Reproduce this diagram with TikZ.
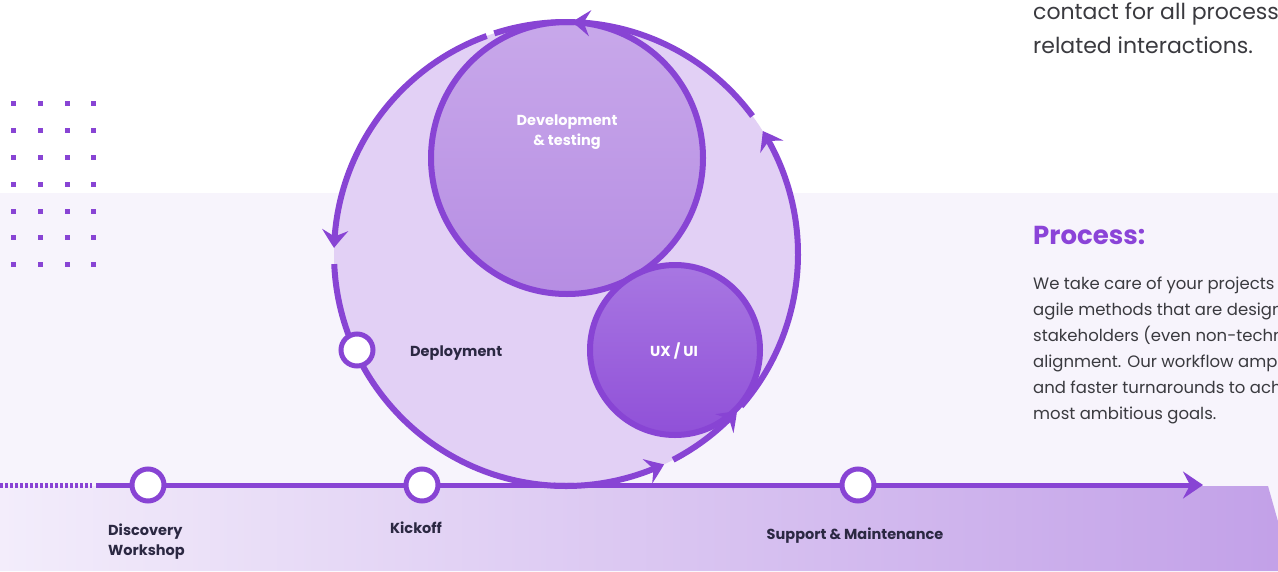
\documentclass[tikz,border=0pt]{standalone}
\usepackage{fontspec}
\setmainfont{Poppins}
\usetikzlibrary{arrows.meta,bending}
\definecolor{pline}{HTML}{8844D4}
\definecolor{bgl}{HTML}{F7F4FC}
\definecolor{bigfill}{HTML}{E2D0F5}
\definecolor{devtop}{HTML}{C8A8EA}
\definecolor{devbot}{HTML}{B68DE3}
\definecolor{uxtop}{HTML}{A877E2}
\definecolor{uxbot}{HTML}{9050D8}
\definecolor{bandL}{HTML}{F3EDFB}
\definecolor{bandR}{HTML}{C2A0E8}
\definecolor{darktxt}{HTML}{2B2842}
\definecolor{bodytxt}{HTML}{3A3A3F}
\definecolor{ptitle}{HTML}{8B44D8}
\tikzset{
  ring/.style={draw=pline, line width=6},
  arcline/.style={draw=pline, line width=6},
  arctip/.style={-{Stealth[length=18pt,width=26pt,inset=6.5pt,bend]}},
  mile/.style={circle, draw=pline, line width=5, fill=white, minimum size=32pt, inner sep=0pt},
  lbl/.style={text=darktxt, font=\fontsize{14.5}{20}\selectfont\bfseries, inner sep=0pt},
  wlbl/.style={text=white, font=\fontsize{14.5}{20}\selectfont\bfseries, inner sep=0pt, align=center},
  body/.style={text=bodytxt, font=\fontsize{16.5}{26}\selectfont, inner sep=0pt, anchor=base west},
  big/.style={text=bodytxt, font=\fontsize{22}{34}\selectfont, inner sep=0pt, anchor=base west}
}
\begin{document}
\begin{tikzpicture}[x=1pt,y=-1pt]
\useasboundingbox (0,0) rectangle (1278,571);
\clip (0,0) rectangle (1278,571);
% backgrounds
\fill[white] (0,0) rectangle (1278,193);
\fill[bgl] (0,193) rectangle (1278,571);
\shade[left color=bandL, right color=bandR] (0,486) -- (1268,486) -- (1292,571) -- (0,571) -- cycle;
% dots
\foreach \xx in {13,40,67,93}
  \foreach \yy in {103,130,157,184,211,237,264}
    \fill[pline] (\xx-2.5,\yy-2.5) rectangle ++(5,5);
% big circle
\coordinate (C) at (566,254);
\fill[bigfill] (C) circle[radius=232pt];
% development circle
\coordinate (D) at (567,158);
\shade[top color=devtop, bottom color=devbot] (D) circle[radius=136pt];
\draw[ring] (D) circle[radius=136pt];
% UX circle
\coordinate (U) at (675,350);
\shade[top color=uxtop, bottom color=uxbot] (U) circle[radius=85pt];
\draw[ring] (U) circle[radius=85pt];
% big circle arcs with arrows
\draw[arcline, arctip] (C) ++(-93:232pt) arc[start angle=-93, end angle=-65, radius=232pt];
\draw[arcline, arctip] (C) ++(-62.5:232pt) arc[start angle=-62.5, end angle=-42.5, radius=232pt];
\draw[arcline, arctip] (C) ++(-41:232pt) arc[start angle=-41, end angle=32, radius=232pt];
\draw[arcline, arctip] (C) ++(36.5:232pt) arc[start angle=36.5, end angle=88.5, radius=232pt];
\draw[arcline] (C) ++(88:232pt) arc[start angle=88, end angle=108, radius=232pt];
\draw[arcline, arctip] (C) ++(110:232pt) arc[start angle=110, end angle=178.5, radius=232pt];
\draw[arcline] (C) ++(182.5:232pt) arc[start angle=182.5, end angle=272, radius=232pt];
% timeline
\coordinate (T0) at (0,485);
\coordinate (T1) at (92,485);
\coordinate (TL) at (96,485);
\coordinate (TR) at (1203,485);
\draw[pline, line width=5, dash pattern=on 3pt off 2pt] (T0) -- (T1);
\draw[pline, line width=5, -{Stealth[length=20pt,width=27pt,inset=7pt]}] (TL) -- (TR);
% milestones
\node[mile] (disc) at (148,485) {};
\node[mile] (kick) at (422,485) {};
\node[mile] (supp) at (858,485) {};
\node[mile] (depl) at (357,350) {};
% labels
\node[lbl, anchor=base west] (discl) at (108,535) {Discovery};
\node[lbl, anchor=base west] (workl) at (108,555) {Workshop};
\node[lbl, anchor=base] (kickl) at (416,533) {Kickoff};
\node[lbl, anchor=base] (suppl) at (855,539) {Support \& Maintenance};
\node[lbl, anchor=base west] (depll) at (410,356) {Deployment};
\node[wlbl, anchor=base] (devl1) at (567,125) {Development};
\node[wlbl, anchor=base] (devl2) at (567,145) {\& testing};
\node[wlbl, anchor=base] (uxl) at (674,356) {UX / UI};
% right text
\node[big] (t1) at (1033,19) {contact for all process};
\node[big] (t2) at (1033,53) {related interactions.};
\node[text=ptitle, font=\fontsize{26}{30}\selectfont\bfseries, inner sep=0pt, anchor=base west] (ptl) at (1033,244) {Process:};
\node[body] (b1) at (1033,289) {We take care of your projects};
\node[body] (b2) at (1033,315) {agile methods that are design};
\node[body] (b3) at (1033,341) {stakeholders (even non-techn};
\node[body] (b4) at (1033,367) {alignment. Our workflow ampl};
\node[body] (b5) at (1033,393) {and faster turnarounds to ach};
\node[body] (b6) at (1033,419) {most ambitious goals.};
\end{tikzpicture}
\end{document}
